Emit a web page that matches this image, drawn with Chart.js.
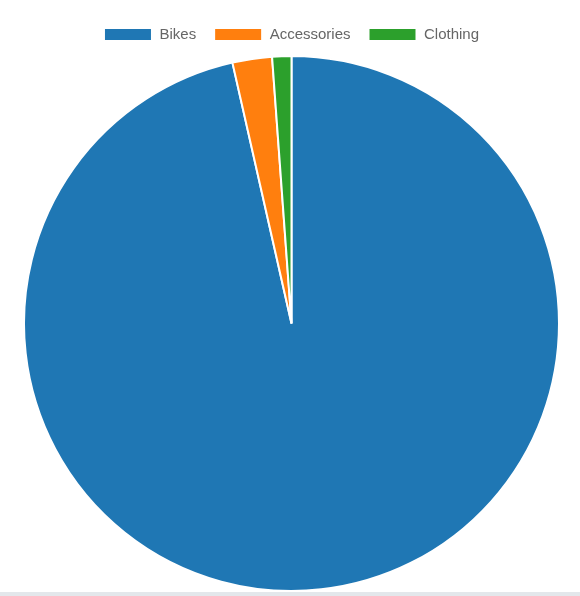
<!DOCTYPE html>
<html><head><meta charset="utf-8">
<script src="https://cdn.jsdelivr.net/npm/chart.js@4"></script>
<style>
html,body{margin:0;padding:0;background:#fff;}
#wrap{width:580px;height:592px;position:relative;}
#bar{width:580px;height:4px;background:#e3e7eb;}
</style></head><body>
<div id="wrap"><canvas id="c"></canvas></div>
<div id="bar"></div>
<script>
const categories = ["Bikes", "Accessories", "Clothing"];
const salesValues = [28318144.65, 700759.96, 339772.61];
const sliceColors = ["#1f77b4", "#ff7f0e", "#2ca02c"];

const legendSpacer = {
  id: 'legendSpacer',
  beforeInit(chart) {
    const origFit = chart.legend.fit;
    chart.legend.fit = function () {
      origFit.bind(chart.legend)();
      this.height += 3;
    };
  }
};

new Chart(document.getElementById('c'), {
  type: 'pie',
  data: {
    labels: categories,
    datasets: [{
      data: salesValues,
      backgroundColor: sliceColors,
      borderColor: '#fff',
      borderWidth: 2
    }]
  },
  options: {
    responsive: true,
    maintainAspectRatio: false,
    animation: false,
    layout: { padding: { top: 9, left: 3, right: 0, bottom: 0 } },
    plugins: {
      legend: {
        position: 'top',
        labels: {
          boxWidth: 48,
          boxHeight: 13,
          padding: 18,
          color: '#666',
          font: { family: 'Liberation Sans, Arial, sans-serif', size: 15 }
        }
      },
      tooltip: { enabled: false }
    }
  },
  plugins: [legendSpacer]
});
</script>
</body></html>
